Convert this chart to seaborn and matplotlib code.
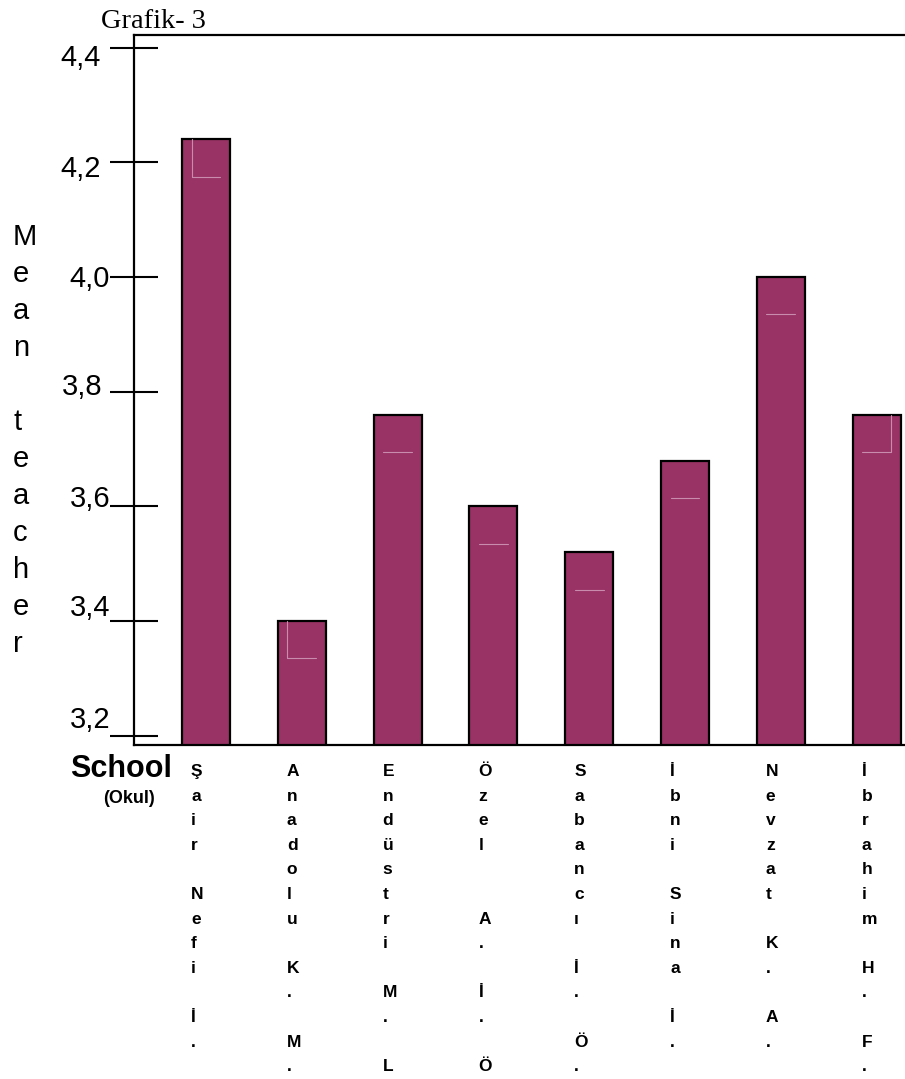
import matplotlib
matplotlib.use("Agg")
import matplotlib.pyplot as plt
import matplotlib.transforms as mtransforms
import pandas as pd
import seaborn as sns

# data
schools = ["Şair Nefi İ.", "Anadolu K. M.", "Endüstri M. L", "Özel  A. İ. Ö",
           "Sabancı İ. Ö.", "İbni Sina İ.", "Nevzat K. A.", "İbrahim H. F."]
means = [4.24, 3.40, 3.76, 3.60, 3.52, 3.68, 4.00, 3.76]
y_ticks = [3.2, 3.4, 3.6, 3.8, 4.0, 4.2, 4.4]
y_tick_labels = ["3,2", "3,4", "3,6", "3,8", "4,0", "4,2", "4,4"]
y_title = "Mean teacher"
x_title = "School"
x_subtitle = "(Okul)"
chart_title = "Grafik- 3"

BAR = "#993366"
SHINE = "#c98cad"
DEPTH = 0.065          # the leftover inner edge of the old 3d bars
inner_side = [-1, -1, 0, 0, 0, 0, 0, 1]
# pixel nudges of the y labels (dx, dy down), they sit a bit off the ticks
label_nudge = [(1, -19), (1, -16), (1, -10), (-7, -8), (1, -1), (-8, 4), (-8, 7)]

W, H, DPI = 905, 1079, 100


def px(x, y):
    """figure fraction from pixel position (y from top)"""
    return x / W, 1 - y / H


def main():
    sns.set_theme(style="white")
    plt.rcParams["font.family"] = ["Liberation Sans", "DejaVu Sans"]
    plt.rcParams["text.color"] = "black"

    df = pd.DataFrame({"school": schools, "mean": means})

    fig = plt.figure(figsize=(W / DPI, H / DPI), dpi=DPI)
    left, top, bottom = 133.5, 34.5, 745
    ax = fig.add_axes([left / W, 1 - bottom / H, 1 - left / W, (bottom - top) / H])

    sns.barplot(data=df, x="school", y="mean", color=BAR, saturation=1,
                edgecolor="black", linewidth=1.6, width=0.5, ax=ax)

    # thin light lines left inside the bars
    for i, v in enumerate(means):
        ax.plot([i - 0.15, i + 0.15], [v - DEPTH, v - DEPTH], color=SHINE, lw=0.8)
        if inner_side[i]:
            xs = i + 0.15 * inner_side[i]
            ax.plot([xs, xs], [v - DEPTH, v], color=SHINE, lw=0.8)

    ax.set_xlim(-0.757, 7.296)
    ax.set_ylim(3.184, 4.423)
    ax.set_xlabel("")
    ax.set_ylabel("")

    ax.set_yticks(y_ticks)
    ax.set_yticklabels(y_tick_labels)
    ax.tick_params(axis="y", direction="inout", length=35, width=1.5,
                   color="black", labelsize=21, pad=0, left=True, labelcolor="black")
    for lab, (dx, dy) in zip(ax.get_yticklabels(), label_nudge):
        lab.set_transform(lab.get_transform() +
                          mtransforms.ScaledTranslation(dx / DPI, -dy / DPI, fig.dpi_scale_trans))

    ax.set_xticks(range(len(schools)))
    ax.set_xticklabels([])
    ax.tick_params(axis="x", length=0)

    for side in ["left", "top", "bottom"]:
        ax.spines[side].set_color("black")
        ax.spines[side].set_linewidth(1.6)
    ax.spines["right"].set_visible(False)

    # school names written one letter under the other
    for i, name in enumerate(schools):
        for row, ch in enumerate(name):
            if ch == " ":
                continue
            ax.annotate(ch, xy=(i, 0), xycoords=ax.get_xaxis_transform(),
                        xytext=(-15, -(31 + row * 24.6)), textcoords="offset pixels",
                        ha="left", va="baseline", fontsize=12.5, fontweight="bold",
                        color="black")

    # y title, also stacked
    for row, ch in enumerate(y_title):
        if ch == " ":
            continue
        fig.text(*px(13, 245 + row * 37), ch, ha="left", va="baseline",
                 fontsize=21, color="black")

    fig.text(*px(172, 777), x_title, ha="right", va="baseline",
             fontsize=22, fontweight="bold", color="black")
    fig.text(*px(128.5, 803), x_subtitle, ha="center", va="baseline",
             fontsize=13, fontweight="bold", color="black")
    fig.text(*px(101, 28), chart_title, ha="left", va="baseline",
             fontsize=20.5, family="Liberation Serif", color="black")

    fig.savefig("out.png", dpi=DPI)


if __name__ == "__main__":
    main()
